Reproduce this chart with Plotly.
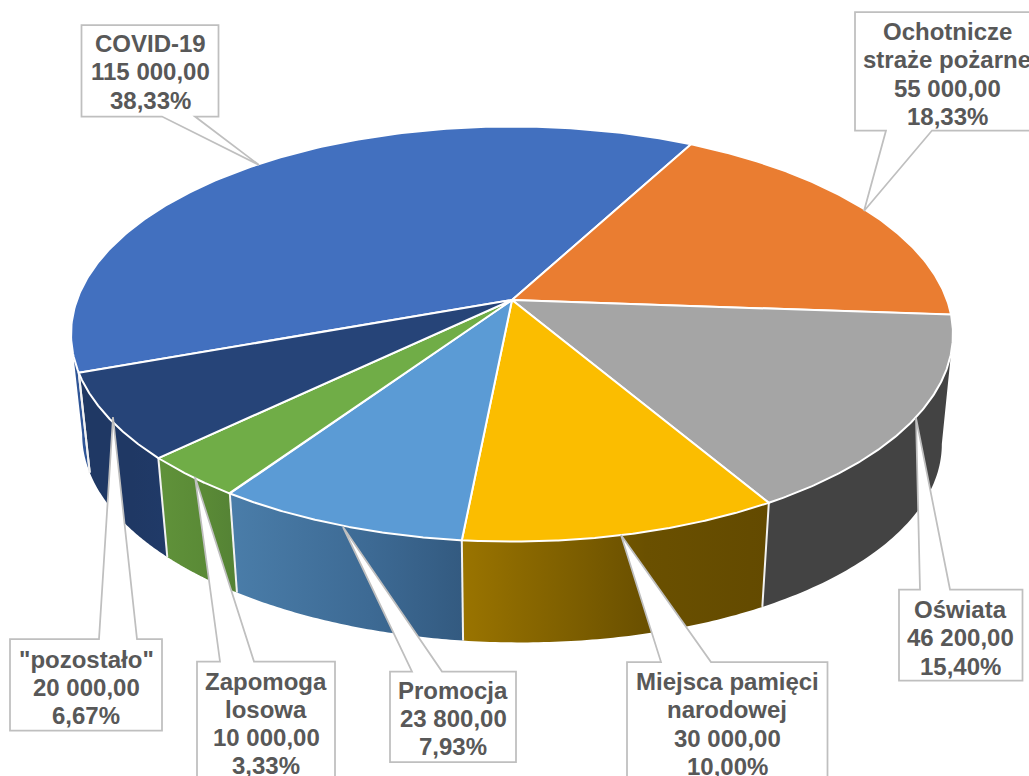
import numpy as np
import plotly.graph_objects as go

# dane wykresu
nazwy = [["COVID-19"], ["Ochotnicze", "straże pożarne"], ["Oświata"], ["Miejsca pamięci", "narodowej"],
         ["Promocja"], ["Zapomoga", "losowa"], ['"pozostało"']]
wartosci = [115000, 55000, 46200, 30000, 23800, 10000, 20000]

kolory_gora = ["#4270BF", "#EA7D31", "#A5A5A5", "#FBBD00", "#5B9BD5", "#70AD47", "#264478"]
# gradient boku: lewa, srodek, prawa
kolory_bok = [("#2F5597", "#2F5597", "#2F5597"), ("#8A4A1F", "#8A4A1F", "#8A4A1F"), ("#434343", "#434343", "#434343"),
              ("#9A7400", "#6A5000", "#634A00"), ("#4A7DA9", "#3D6A94", "#335A80"),
              ("#60923A", "#5A8A36", "#548235"), ("#1F3864", "#1F3864", "#203A68")]

# callouty: ramka (x0, y0, x1, y1), wskaznik (x przy ramce lewy, prawy, czubek x, y), tekst (x, y pierwszej linii)
ramki = [(81.5, 25, 218.5, 116.5), (855, 12, 1045, 130.5), (899, 589.5, 1022.5, 680.5), (627, 662, 827.5, 790),
         (390, 671.5, 516, 762), (197, 661.5, 335, 790), (10, 639, 162, 730.5)]
wskazniki = [(162, 195, 259, 165), (886, 932, 864, 211), (920, 950, 916, 418), (661, 711, 621, 535),
             (412, 442, 343, 527), (220, 254, 195, 477), (99, 137, 113, 417)]
teksty_xy = [(150, 43.5), (947, 31.5), (960.5, 609.5), (727, 681.5), (453, 690), (266, 681), (86, 659)]

# geometria (rzut perspektywiczny kola)
CX, CY = 512, 300
A, B, K = 202, 435, 0.164
CY_D, A_D, B_D, TILT = 406, 197.6, 424, 5
START = 250.1
WIDOCZNE = (99.4, 260.6)
KROK_LINII = 28.3

suma = sum(wartosci)


def gora(t):
    X, Y = np.sin(np.radians(t)), -np.cos(np.radians(t))
    d = 1 - K * Y
    return CX + B * X / d, CY + A * Y / d


def dol(t):
    X, Y = np.sin(np.radians(t)), -np.cos(np.radians(t))
    d = 1 - K * Y
    return CX + B_D * X / d, CY_D + A_D * Y / d + TILT * X


def fmt(v):
    return f"{v:,.2f}".replace(",", " ").replace(".", ",")


fig = go.Figure()

# katy plasterkow (zgodnie z ruchem wskazowek)
katy = START + 360 * np.concatenate([[0], np.cumsum(wartosci)]) / suma

# boki
for i in range(len(wartosci)):
    for przes in (0, -360, 360):
        t0 = max(katy[i] + przes, WIDOCZNE[0])
        t1 = min(katy[i + 1] + przes, WIDOCZNE[1])
        if t1 <= t0:
            continue
        t = np.linspace(t0, t1, 60)
        xg, yg = gora(t)
        xd, yd = dol(t[::-1])
        k = kolory_bok[i]
        fig.add_trace(go.Scatter(x=np.r_[xg, xd], y=np.r_[yg, yd], mode="none", fill="toself",
                                 fillgradient=dict(type="horizontal",
                                                   colorscale=[[0, k[0]], [0.6, k[1]], [1, k[2]]]),
                                 hoverinfo="skip"))

# biale krawedzie miedzy bokami
for t in katy:
    t = (t - WIDOCZNE[0]) % 360 + WIDOCZNE[0]
    if t < WIDOCZNE[1]:
        xg, yg = gora(t)
        xd, yd = dol(t)
        fig.add_trace(go.Scatter(x=[xg, xd], y=[yg, yd], mode="lines", line=dict(color="#F2F2F2", width=2),
                                 hoverinfo="skip"))

# wierzch
for i in range(len(wartosci)):
    t = np.linspace(katy[i], katy[i + 1], 160)
    x, y = gora(t)
    fig.add_trace(go.Scatter(x=np.r_[CX, x, CX], y=np.r_[CY, y, CY], mode="lines", fill="toself",
                             fillcolor=kolory_gora[i], line=dict(color="#FFFFFF", width=2),
                             text=" ".join(nazwy[i]), hoverinfo="text"))

# callouty
shapes = []
annotations = []
for i in range(len(wartosci)):
    x0, y0, x1, y1 = ramki[i]
    a, b, tx, ty = wskazniki[i]
    if ty < y0:   # wskaznik od gory ramki
        path = f"M{x0},{y0} L{a},{y0} L{tx},{ty} L{b},{y0} L{x1},{y0} L{x1},{y1} L{x0},{y1} Z"
    else:
        path = f"M{x0},{y0} L{x1},{y0} L{x1},{y1} L{b},{y1} L{tx},{ty} L{a},{y1} L{x0},{y1} Z"
    shapes.append(dict(type="path", path=path, xref="x", yref="y", fillcolor="#FFFFFF",
                       line=dict(color="#BFBFBF", width=1.75), layer="above"))
    linie = nazwy[i] + [fmt(wartosci[i]), f"{wartosci[i] / suma * 100:.2f}".replace(".", ",") + "%"]
    for n, linia in enumerate(linie):
        annotations.append(dict(x=teksty_xy[i][0], y=teksty_xy[i][1] + n * KROK_LINII, text=linia, xref="x", yref="y",
                                showarrow=False, xanchor="center", yanchor="middle",
                                font=dict(family="Liberation Sans", size=24, color="#585858", weight="bold")))

fig.update_layout(width=1029, height=776, margin=dict(l=0, r=0, t=0, b=0), showlegend=False,
                  paper_bgcolor="white", plot_bgcolor="white", shapes=shapes, annotations=annotations,
                  xaxis=dict(range=[0, 1029], visible=False, fixedrange=True),
                  yaxis=dict(range=[776, 0], visible=False, fixedrange=True))

fig.write_html("out.html", post_script="document.body.style.margin='0';", config=dict(displayModeBar=False))
